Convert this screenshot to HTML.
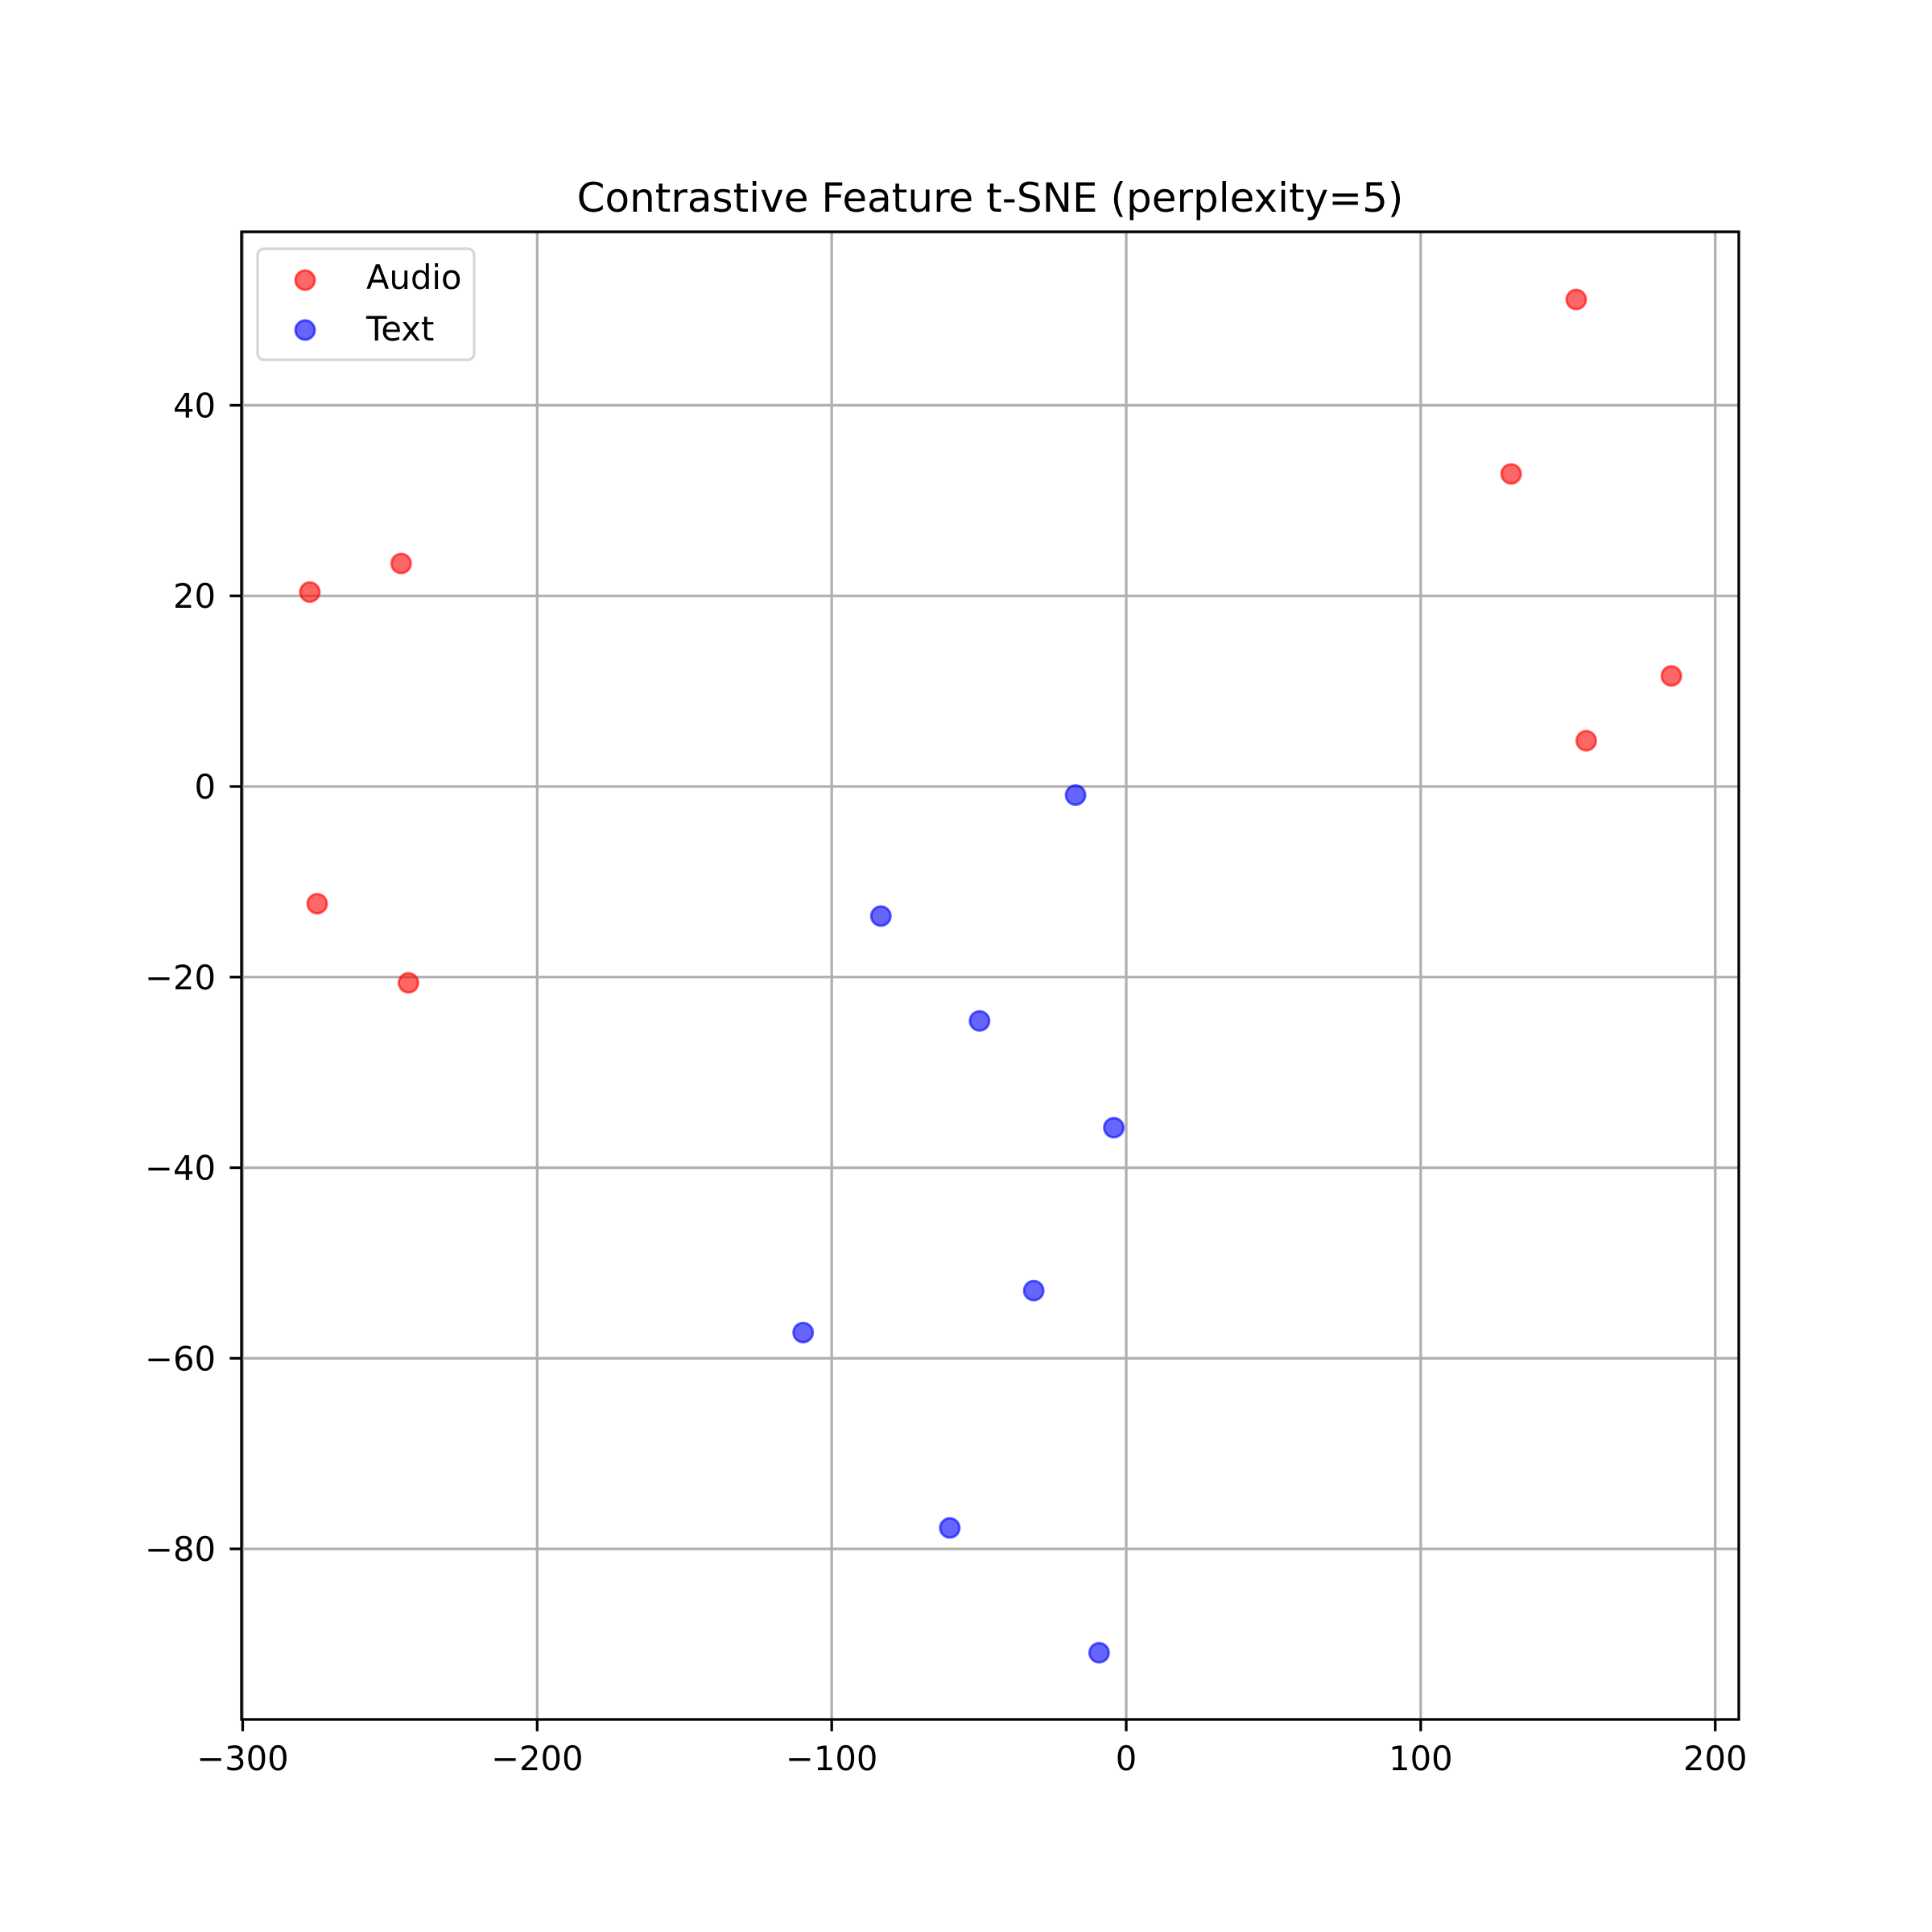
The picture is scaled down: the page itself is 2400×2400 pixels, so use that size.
<!DOCTYPE html>
<html><head><meta charset="utf-8"><style>html,body{margin:0;padding:0;background:#fff}svg{display:block}</style></head>
<body>
<svg id="chart" xmlns="http://www.w3.org/2000/svg" width="2400" height="2400" viewBox="0 0 2400 2400" font-family="'DejaVu Sans','Liberation Sans',sans-serif">
<rect width="2400" height="2400" fill="#fff"/>
<text x="1230" y="263" font-size="50" text-anchor="middle">Contrastive Feature t-SNE (perplexity=5)</text>
<g id="grid"></g>
<g id="marks"></g>
<g id="axes"></g>
<g>
<rect x="320" y="309" width="269" height="138" rx="8" fill="#fff" fill-opacity="0.8" stroke="#d6d6d6" stroke-width="3.3"/>
<circle cx="379" cy="348" r="12" fill="rgba(255,0,0,0.6)" stroke="rgba(255,0,0,0.6)" stroke-width="3"/>
<text x="455" y="359" font-size="41.7">Audio</text>
<circle cx="379" cy="410" r="12" fill="rgba(0,0,255,0.6)" stroke="rgba(0,0,255,0.6)" stroke-width="3"/>
<text x="455" y="423" font-size="41.7">Text</text>
</g>
</svg>
<script>
const audioX = [152.8, 130.7, 185.1, 156.2, -246.2, -277.2, -274.7, -243.7];
const audioY = [51.1, 32.8, 11.6, 4.8, 23.4, 20.4, -12.3, -20.6];
const textX = [-17.2, -83.3, -49.8, -4.2, -31.4, -109.7, -59.9, -9.2];
const textY = [-0.9, -13.6, -24.6, -35.8, -52.9, -57.3, -77.8, -90.9];
const xTicks = [-300, -200, -100, 0, 100, 200];
const yTicks = [-80, -60, -40, -20, 0, 20, 40];

const NS = 'http://www.w3.org/2000/svg';
const L = 300, R = 2160, T = 288, B = 2136;
const xMin = -300.4, xMax = 208.0, yMin = -97.9, yMax = 58.2;
function sx(v){ return L + (v - xMin) / (xMax - xMin) * (R - L); }
function sy(v){ return B - (v - yMin) / (yMax - yMin) * (B - T); }
function mk(tag, attrs, parent){ const e = document.createElementNS(NS, tag); for (const k in attrs) e.setAttribute(k, attrs[k]); parent.appendChild(e); return e; }
const fmt = v => v < 0 ? '\u2212' + Math.abs(v) : String(v);

const grid = document.getElementById('grid');
const axes = document.getElementById('axes');
const marks = document.getElementById('marks');

xTicks.forEach(v => {
  const x = sx(v);
  const g = mk('line', {x1:x, x2:x, y1:T, y2:B, stroke:'#b0b0b0', 'stroke-width':3.3}, grid);
  
  
  const t = mk('line', {x1:x, x2:x, y1:B, y2:B+14.6, stroke:'#000', 'stroke-width':3.3}, axes);
  
  
  const l = mk('text', {x:x, y:2199, 'font-size':41.7, 'text-anchor':'middle'}, axes);
  l.textContent = fmt(v);
  
  
});
yTicks.forEach(v => {
  const y = sy(v);
  const g = mk('line', {x1:L, x2:R, y1:y, y2:y, stroke:'#b0b0b0', 'stroke-width':3.3}, grid);
  
  
  const t = mk('line', {x1:L-14.6, x2:L, y1:y, y2:y, stroke:'#000', 'stroke-width':3.3}, axes);
  
  
  const l = mk('text', {x:268, y:y+15, 'font-size':41.7, 'text-anchor':'end'}, axes);
  l.textContent = fmt(v);
  
  
});
const frame = mk('rect', {x:L, y:T, width:R-L, height:B-T, fill:'none', stroke:'#000', 'stroke-width':3.3}, axes);



audioX.forEach((v, i) => {
  const c = mk('circle', {cx:sx(v), cy:sy(audioY[i]), r:12, fill:'rgba(255,0,0,0.6)', stroke:'rgba(255,0,0,0.6)', 'stroke-width':3}, marks);
  
  
});
textX.forEach((v, i) => {
  const c = mk('circle', {cx:sx(v), cy:sy(textY[i]), r:12, fill:'rgba(0,0,255,0.6)', stroke:'rgba(0,0,255,0.6)', 'stroke-width':3}, marks);
  
  
});
</script>
</body></html>
